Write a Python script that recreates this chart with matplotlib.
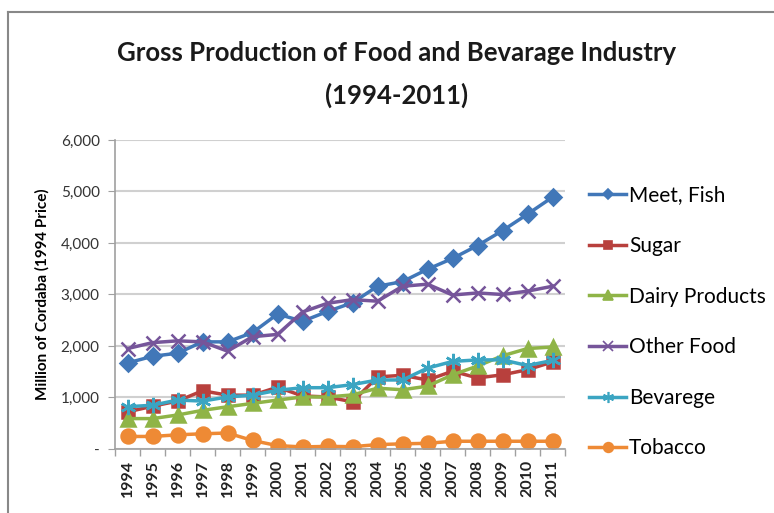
import numpy as np
import matplotlib.pyplot as plt
from matplotlib.ticker import FuncFormatter
from matplotlib.lines import Line2D

plt.rcParams['font.family'] = ['Lato', 'DejaVu Sans']

years = [str(y) for y in range(1994, 2012)]
meet_fish = [1670, 1800, 1860, 2080, 2080, 2260, 2620, 2480, 2670, 2840, 3160, 3250, 3490, 3700, 3950, 4240, 4560, 4890]
sugar = [720, 830, 930, 1130, 1045, 1045, 1200, 1030, 1010, 915, 1400, 1430, 1340, 1510, 1380, 1440, 1540, 1690]
dairy = [590, 590, 660, 750, 820, 885, 950, 1010, 1010, 1050, 1180, 1150, 1220, 1440, 1610, 1810, 1950, 1980]
other_food = [1950, 2065, 2100, 2080, 1900, 2180, 2225, 2660, 2830, 2900, 2870, 3160, 3200, 2990, 3030, 3000, 3065, 3160]
bevarege = [820, 850, 950, 930, 1010, 1045, 1140, 1190, 1190, 1250, 1340, 1340, 1570, 1700, 1730, 1730, 1620, 1720]
tobacco = [243, 243, 275, 295, 310, 165, 65, 40, 50, 45, 85, 100, 110, 150, 150, 150, 150, 150]

names = ['Meet, Fish', 'Sugar', 'Dairy Products', 'Other Food', 'Bevarege', 'Tobacco']
series = [meet_fish, sugar, dairy, other_food, bevarege, tobacco]
colors = ['#4177b8', '#b8403d', '#8fb447', '#76559a', '#3ba5c2', '#ee8a35']
markers = ['D', 's', '^', 'x', (6, 2, 0), 'o']
msizes = [8, 9, 10, 10, 11, 10]

fig = plt.figure(figsize=(7.74, 5.13), dpi=100)
ax = fig.add_axes([0.1486, 0.1248, 0.5814, 0.6023])

x = np.arange(len(years))
handles = []
for vals, name, c, m, ms in zip(series, names, colors, markers, msizes):
    ax.plot(x, vals, color=c, lw=2.5, marker=m, markersize=ms,
            markeredgecolor=c, markeredgewidth=1.8, label=name)
    handles.append(Line2D([], [], color=c, lw=2.5, marker=m, markersize=ms - 3,
                          markeredgecolor=c, markeredgewidth=1.2))

ax.set_xlim(-0.5, len(years) - 0.5)
ax.set_ylim(0, 6000)
ax.set_yticks(np.arange(0, 6001, 1000))
ax.yaxis.set_major_formatter(FuncFormatter(lambda v, p: '-' if v == 0 else f'{int(v):,}'))
ax.set_xticks(x)
ax.set_xticklabels(years, rotation=90, fontsize=11.5, fontweight='bold', color='#222222')
ax.set_xticks(np.arange(-0.5, len(years), 1), minor=True)
ax.tick_params(axis='x', which='major', length=0, pad=8)
ax.tick_params(axis='x', which='minor', length=5, color='#a0a0a0', width=1)
ax.tick_params(axis='y', length=5, color='#a0a0a0', labelsize=11, labelcolor='#333333', pad=6)

ax.grid(axis='y', color='#d0d0d0', lw=1.5)
ax.set_axisbelow(True)
for s in ['top', 'right']:
    ax.spines[s].set_visible(False)
for s in ['left', 'bottom']:
    ax.spines[s].set_color('#a0a0a0')
    ax.spines[s].set_linewidth(1.2)

ax.set_ylabel('Million of Cordaba (1994 Price)', fontsize=11, fontweight='bold', labelpad=8)

fig.text(0.513, 0.897, 'Gross Production of Food and Bevarage Industry', ha='center', va='center',
         fontsize=18.5, fontweight='bold', color='#1a1a1a')
fig.text(0.513, 0.815, '(1994-2011)', ha='center', va='center',
         fontsize=18.5, fontweight='bold', color='#1a1a1a')

fig.legend(handles, names, loc='upper left', bbox_to_anchor=(0.750, 0.655), frameon=False,
           fontsize=15, handlelength=1.8, handletextpad=0.12, labelspacing=1.47,
           borderaxespad=0)

# chart frame (top and left edges visible in the crop)
fig.add_artist(Line2D([0.010, 1.0], [0.977, 0.977], transform=fig.transFigure, color='#888888', lw=1.5))
fig.add_artist(Line2D([0.010, 0.010], [0.0, 0.977], transform=fig.transFigure, color='#888888', lw=1.5))

fig.savefig('out.png', dpi=100)
